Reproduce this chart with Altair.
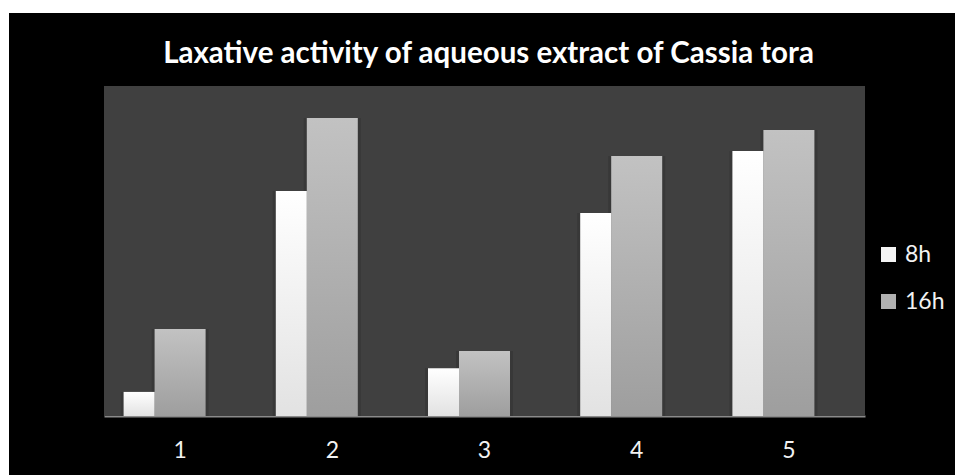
import altair as alt
import pandas as pd

categories = ["1", "2", "3", "4", "5"]
series = ["8h", "16h"]
values_8h = [7.3, 68.2, 14.5, 61.5, 80.3]
values_16h = [26.4, 90.3, 19.7, 78.8, 86.7]
title_text = "Laxative activity of aqueous extract of Cassia tora"

df = pd.DataFrame({"cat": categories, "h8": values_8h, "h16": values_16h})
legend_df = pd.DataFrame({"series": series})
title_df = pd.DataFrame({"t": [title_text]})

W, H = 761, 330
PL, PT, PR, PB = 104, 86, 90, 59

xenc = alt.X("cat:N", sort=categories,
             scale=alt.Scale(paddingInner=0, paddingOuter=0),
             axis=alt.Axis(title=None, labelAngle=0, ticks=False, domain=True,
                           domainColor="#8a8a8a", domainWidth=2,
                           labelColor="#f2f2f2", labelFont="Lato", labelFontSize=23,
                           labelPadding=23, grid=False))
yscale = alt.Scale(domain=[0, 100], nice=False)

grad8 = alt.Gradient(gradient="linear", x1=0, y1=0, x2=0, y2=1,
                     stops=[alt.GradientStop(offset=0, color="#ffffff"),
                            alt.GradientStop(offset=1, color="#e2e2e2")])
grad16 = alt.Gradient(gradient="linear", x1=0, y1=0, x2=0, y2=1,
                      stops=[alt.GradientStop(offset=0, color="#c2c2c2"),
                             alt.GradientStop(offset=1, color="#9e9e9e")])

base = alt.Chart(df)

# white page margin around the black chart box
white_left = base.mark_rect(color="white", clip=False).encode(
    x=alt.value(-PL), x2=alt.value(-95), y=alt.value(-PT), y2=alt.value(H + PB))
white_top = base.mark_rect(color="white", clip=False).encode(
    x=alt.value(-PL), x2=alt.value(W + PR), y=alt.value(-PT), y2=alt.value(-73))
# plot area background
plot_bg = base.mark_rect(color="#404040").encode(
    x=alt.value(0), x2=alt.value(W), y=alt.value(0), y2=alt.value(H))

title_layer = alt.Chart(title_df).mark_text(
    color="white", font="Lato", fontSize=29.5, fontWeight="bold",
    align="center", baseline="alphabetic", clip=False
).encode(text="t:N", x=alt.value(W / 2 + 4), y=alt.value(-23))

shadow16 = base.mark_bar(color="#353535", size=57, opacity=0.7).encode(
    x=xenc, y=alt.Y("h16:Q", scale=yscale, axis=None))
shadow8 = base.mark_bar(color="#353535", size=37, xOffset=-41, opacity=0.7).encode(
    x=xenc, y=alt.Y("h8:Q", scale=yscale, axis=None))
bars16 = base.mark_bar(color=grad16, size=51).encode(
    x=xenc, y=alt.Y("h16:Q", scale=yscale, axis=None))
bars8 = base.mark_bar(color=grad8, size=31, xOffset=-41).encode(
    x=xenc, y=alt.Y("h8:Q", scale=yscale, axis=None))

legend_layer = alt.Chart(legend_df).mark_square(opacity=0).encode(
    color=alt.Color("series:N", sort=series,
                    scale=alt.Scale(domain=series, range=["#f4f4f4", "#b0b0b0"]),
                    legend=alt.Legend(title=None, orient="none", legendX=773, legendY=157,
                                      symbolType="square", symbolSize=225,
                                      symbolOpacity=1, symbolStrokeWidth=0,
                                      labelColor="#f2f2f2", labelFont="Lato",
                                      labelFontSize=23, labelOffset=5,
                                      rowPadding=23, padding=0)))

chart = alt.layer(white_left, white_top, plot_bg, title_layer,
                  shadow16, shadow8, bars16, bars8, legend_layer).properties(
    width=W, height=H,
    background="black",
    padding={"left": PL, "top": PT, "right": PR, "bottom": PB},
    autosize=alt.AutoSizeParams(type="none"),
).configure_view(strokeWidth=0)

chart.save("out.html", embed_options={"renderer": "svg", "actions": False})
